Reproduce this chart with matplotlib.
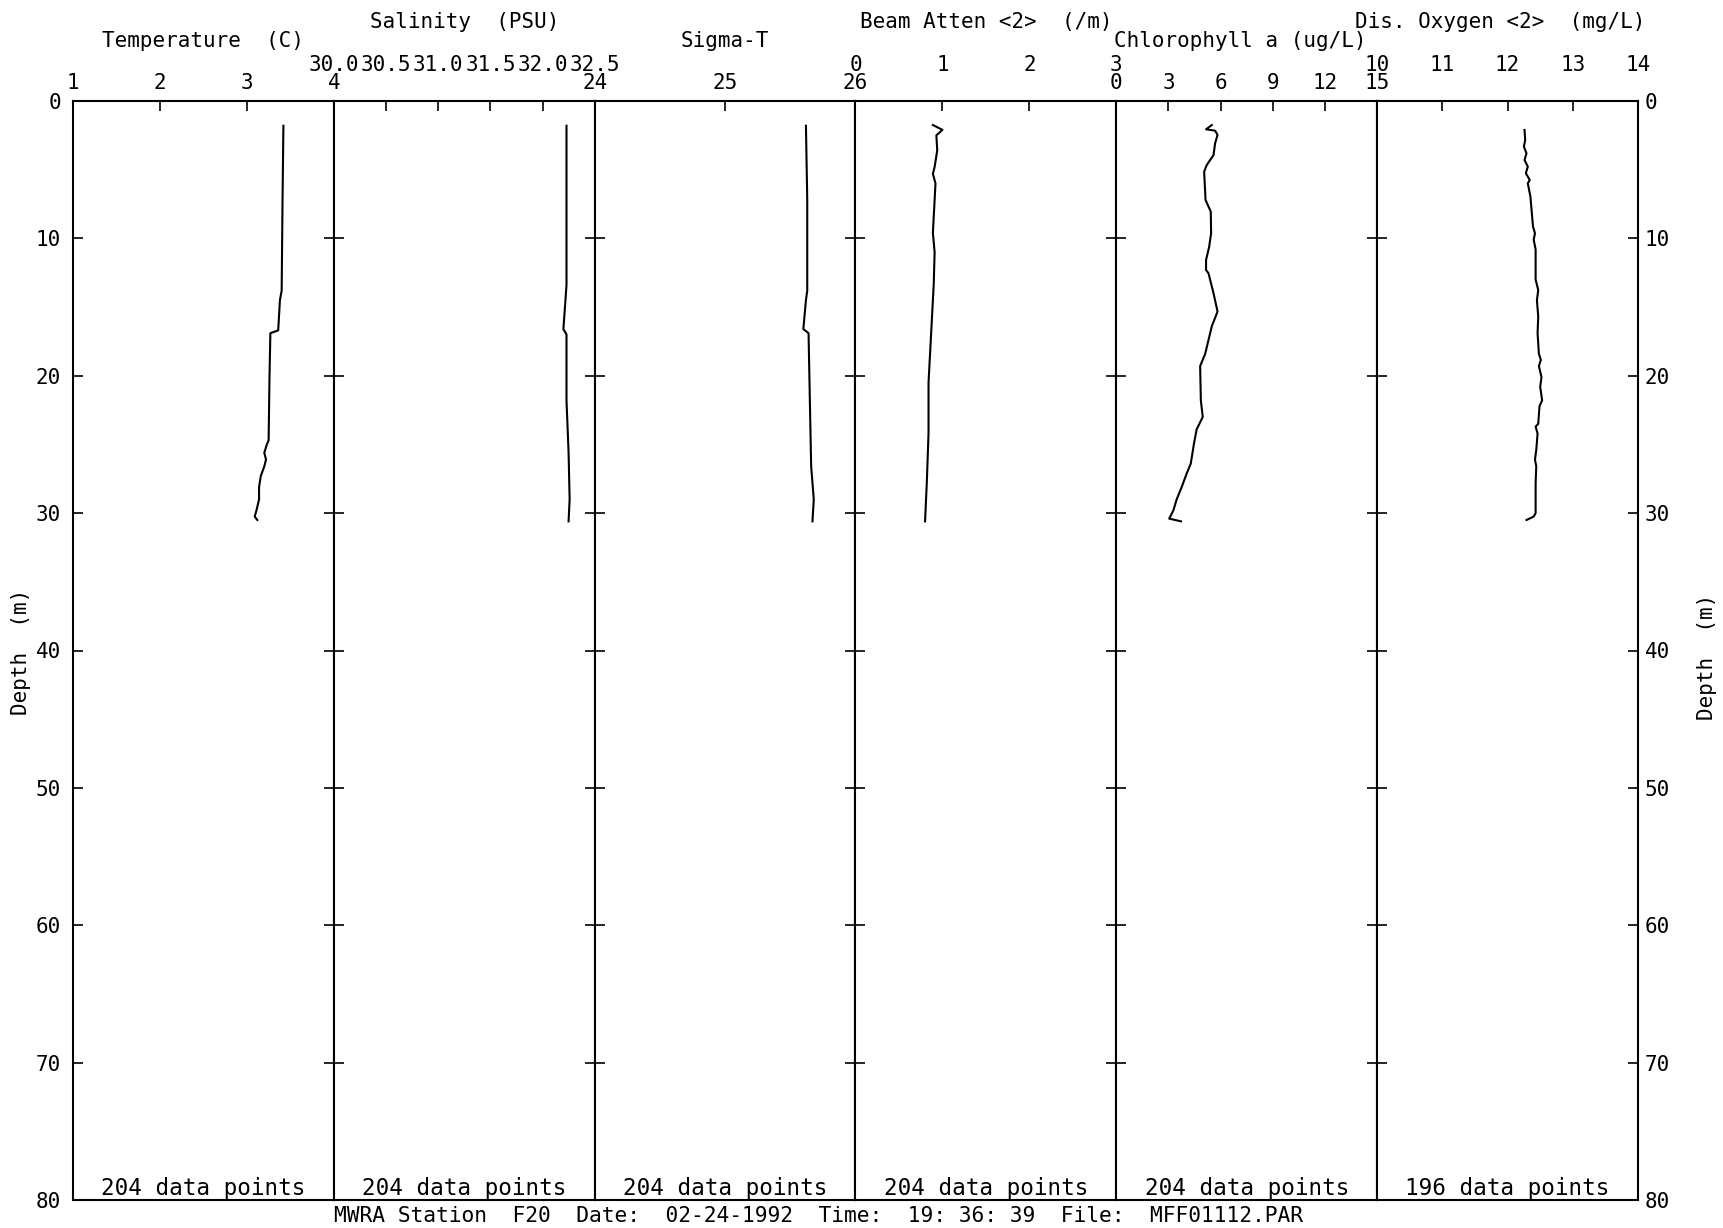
import matplotlib.pyplot as plt

plt.rcParams['font.family'] = 'DejaVu Sans Mono'
plt.rcParams['font.size'] = 15

# depth axis
depth_ticks = [0, 10, 20, 30, 40, 50, 60, 70, 80]

# profiles (depth in m)
temp_depth = [1.8, 7.2, 13.8, 14.5, 16.7, 16.9, 20.1, 24.7, 25.0, 25.6, 26.1, 26.6, 27.3, 28.1, 29.0, 29.8, 30.25, 30.5]
temp_vals = [3.42, 3.41, 3.40, 3.38, 3.36, 3.27, 3.26, 3.25, 3.23, 3.20, 3.22, 3.20, 3.16, 3.14, 3.14, 3.11, 3.09, 3.12]

sal_depth = [1.8, 7.2, 13.4, 14.5, 16.6, 17.0, 21.8, 25.6, 29.0, 30.6]
sal_vals = [32.23, 32.23, 32.23, 32.22, 32.20, 32.23, 32.23, 32.25, 32.26, 32.25]

sig_depth = [1.8, 7.2, 13.8, 14.5, 16.6, 16.9, 21.8, 26.6, 29.0, 30.6]
sig_vals = [25.62, 25.63, 25.63, 25.62, 25.60, 25.64, 25.65, 25.66, 25.68, 25.67]

beam_depth = [1.75, 2.1, 2.5, 3.6, 4.8, 5.3, 6.0, 7.2, 9.6, 11.0, 13.3, 16.9, 20.5, 24.2, 27.8, 30.6]
beam_vals = [0.89, 1.00, 0.93, 0.94, 0.91, 0.89, 0.92, 0.91, 0.89, 0.91, 0.90, 0.87, 0.84, 0.84, 0.82, 0.80]

chl_depth = [1.75, 2.06, 2.16, 2.47, 3.08, 3.93, 4.66, 5.14, 7.2, 8.05, 9.63, 10.6, 11.57, 12.3, 12.54,
             14.0, 15.33, 16.4, 18.4, 19.3, 21.8, 23.0, 23.9, 24.9, 26.4, 27.1, 28.1, 29.0, 29.8, 30.4, 30.6]
chl_vals = [5.49, 5.16, 5.68, 5.82, 5.68, 5.59, 5.20, 5.05, 5.13, 5.43, 5.45, 5.34, 5.16, 5.16, 5.30,
            5.59, 5.82, 5.49, 5.11, 4.82, 4.86, 4.97, 4.62, 4.47, 4.28, 4.05, 3.76, 3.47, 3.28, 3.04, 3.72]

do_depth = [2.11, 2.84, 3.32, 3.81, 4.29, 4.78, 5.26, 5.75, 5.99, 6.96, 9.15, 9.63, 10.1, 10.8, 12.06, 13.0,
            13.76, 14.5, 15.7, 16.9, 18.4, 18.85, 19.3, 20.1, 20.8, 21.8, 22.2, 23.5, 23.7, 24.2, 25.4,
            26.1, 26.6, 27.8, 29.0, 30.0, 30.25, 30.5]
do_vals = [12.26, 12.27, 12.25, 12.29, 12.26, 12.31, 12.28, 12.34, 12.31, 12.35, 12.39, 12.42, 12.40, 12.43,
           12.43, 12.43, 12.47, 12.45, 12.47, 12.46, 12.48, 12.51, 12.48, 12.52, 12.50, 12.53, 12.49, 12.47,
           12.43, 12.46, 12.44, 12.42, 12.44, 12.43, 12.43, 12.43, 12.40, 12.29]

titles = ['Temperature  (C)', 'Salinity  (PSU)', 'Sigma-T', 'Beam Atten <2>  (/m)',
          'Chlorophyll a (ug/L)', 'Dis. Oxygen <2>  (mg/L)']
x_limits = [(1, 4), (30, 32.5), (24, 26), (0, 3), (0, 15), (10, 14)]
x_ticks = [[1, 2, 3, 4],
           [30, 30.5, 31, 31.5, 32, 32.5],
           [24, 25, 26],
           [0, 1, 2, 3],
           [0, 3, 6, 9, 12, 15],
           [10, 11, 12, 13, 14]]
x_ticklabels = [['1', '2', '3', '4'],
                ['30.0', '30.5', '31.0', '31.5', '32.0', '32.5'],
                ['24', '25', '26'],
                ['0', '1', '2', '3'],
                ['0', '3', '6', '9', '12', '15'],
                ['10', '11', '12', '13', '14']]
n_points = [204, 204, 204, 204, 204, 196]
profiles = [(temp_depth, temp_vals), (sal_depth, sal_vals), (sig_depth, sig_vals),
            (beam_depth, beam_vals), (chl_depth, chl_vals), (do_depth, do_vals)]

W, H = 1724, 1228
fig = plt.figure(figsize=(W / 100, H / 100), dpi=100)

left_px, right_px, top_px, bot_px = 73, 1638, 101, 1200
pw = (right_px - left_px) / 6

for i in range(6):
    ax = fig.add_axes([(left_px + i * pw) / W, 1 - bot_px / H, pw / W, (bot_px - top_px) / H])
    d, v = profiles[i]
    ax.plot(v, d, color='black', lw=1.5)
    ax.set_xlim(*x_limits[i])
    ax.set_ylim(80, 0)
    for s in ax.spines.values():
        s.set_linewidth(1.5)

    upper = (i % 2 == 1)  # salinity, beam, oxygen sit one row higher
    ax.xaxis.tick_top()
    ax.set_xticks(x_ticks[i])
    ax.set_xticklabels(x_ticklabels[i])
    ax.tick_params(axis='x', direction='in', length=7, width=1.2,
                   pad=18.4 if upper else 6.1)

    ax.set_yticks(depth_ticks)
    ax.tick_params(axis='y', direction='in', length=7, width=1.2,
                   left=True, right=True, labelleft=(i == 0), labelright=(i == 5),
                   pad=5 if i == 5 else 8.6)

    ax.annotate(titles[i], xy=(0.5, 1), xycoords='axes fraction',
                xytext=(-5 if i >= 4 else 0, 57 if upper else 43), textcoords='offset points',
                ha='center', va='center')
    ax.annotate(f'{n_points[i]} data points', xy=(0.5, 0), xycoords='axes fraction',
                xytext=(0, 8.6), textcoords='offset points',
                ha='center', va='center', fontsize=16.3)

fig.text(21 / W, 1 - 652 / H, 'Depth  (m)', rotation=90, ha='center', va='center')
fig.text(1707 / W, 1 - 657 / H, 'Depth  (m)', rotation=90, ha='center', va='center')
fig.text(819 / W, 1 - 1216 / H,
         'MWRA Station  F20  Date:  02-24-1992  Time:  19: 36: 39  File:  MFF01112.PAR',
         ha='center', va='center', fontsize=15.3)

fig.savefig('out.png', dpi=100)
